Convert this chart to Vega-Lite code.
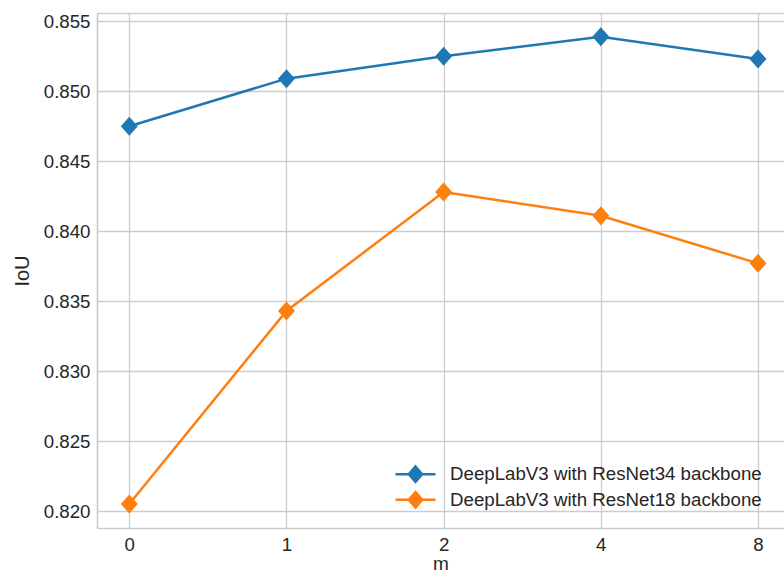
{
  "$schema": "https://vega.github.io/schema/vega-lite/v6.json",
  "autosize": "none",
  "padding": {"left": 97, "top": 13, "right": 0, "bottom": 46},
  "width": 687,
  "height": 515,
  "background": "white",
  "config": {
    "font": "Liberation Sans",
    "view": {"stroke": null},
    "axis": {
      "labelColor": "#262626",
      "titleColor": "#262626",
      "labelFontSize": 18.7,
      "titleFontSize": 20,
      "titleFontWeight": "normal",
      "labelFont": "Liberation Sans",
      "titleFont": "Liberation Sans",
      "gridColor": "#cccccc",
      "gridWidth": 1.3,
      "domainColor": "#cccccc",
      "domainWidth": 1.7,
      "ticks": false
    },
    "legend": {
      "labelFont": "Liberation Sans",
      "labelFontSize": 18.7,
      "labelColor": "#262626"
    }
  },
  "data": {
    "values": [
      {"m": 0, "IoU": 0.8475, "model": "DeepLabV3 with ResNet34 backbone"},
      {"m": 1, "IoU": 0.8509, "model": "DeepLabV3 with ResNet34 backbone"},
      {"m": 2, "IoU": 0.8525, "model": "DeepLabV3 with ResNet34 backbone"},
      {"m": 4, "IoU": 0.8539, "model": "DeepLabV3 with ResNet34 backbone"},
      {"m": 8, "IoU": 0.8523, "model": "DeepLabV3 with ResNet34 backbone"},
      {"m": 0, "IoU": 0.8205, "model": "DeepLabV3 with ResNet18 backbone"},
      {"m": 1, "IoU": 0.8343, "model": "DeepLabV3 with ResNet18 backbone"},
      {"m": 2, "IoU": 0.8428, "model": "DeepLabV3 with ResNet18 backbone"},
      {"m": 4, "IoU": 0.8411, "model": "DeepLabV3 with ResNet18 backbone"},
      {"m": 8, "IoU": 0.8377, "model": "DeepLabV3 with ResNet18 backbone"}
    ]
  },
  "encoding": {
    "y": {
      "field": "IoU",
      "type": "quantitative",
      "scale": {"domain": [0.818785, 0.855593], "nice": false, "zero": false},
      "axis": {
        "title": "IoU",
        "values": [0.82, 0.825, 0.83, 0.835, 0.84, 0.845, 0.85, 0.855],
        "format": ".3f",
        "labelPadding": 7,
        "titlePadding": 11,
        "domain": true
      }
    },
    "color": {
      "field": "model",
      "type": "nominal",
      "scale": {
        "domain": ["DeepLabV3 with ResNet34 backbone", "DeepLabV3 with ResNet18 backbone"],
        "range": ["#1f77b4", "#ff7f0e"]
      },
      "legend": {
        "title": null,
        "orient": "none",
        "legendX": 307,
        "legendY": 449.7,
        "padding": 0,
        "symbolType": "M-2,0H2M0,-0.77L0.67,0L0,0.77L-0.67,0Z",
        "symbolSize": 400,
        "symbolStrokeWidth": 2.5,
        "labelOffset": 23,
        "rowPadding": -1.4,
        "labelLimit": 500,
        "encode": {
          "symbols": {
            "update": {
              "fill": {"scale": "color", "field": "value"},
              "stroke": {"scale": "color", "field": "value"},
              "strokeWidth": {"value": 2.5},
              "opacity": {"value": 1}
            }
          }
        }
      }
    }
  },
  "layer": [
    {
      "mark": {"type": "line", "strokeWidth": 2.5},
      "encoding": {
        "x": {
          "field": "m",
          "type": "ordinal",
          "scale": {"type": "point", "domain": [0, 1, 2, 4, 8], "padding": 0.1854, "align": 0.554},
          "axis": {
            "title": "m",
            "titleFontSize": 19,
            "labelAngle": 0,
            "labelPadding": 7,
            "titlePadding": 1,
            "domain": true,
            "grid": true
          }
        }
      }
    },
    {
      "mark": {"type": "point", "filled": true, "opacity": 1, "size": 361, "shape": "M0,-1L0.894,0L0,1L-0.894,0Z", "strokeWidth": 0},
      "encoding": {
        "x": {
          "field": "m",
          "type": "ordinal",
          "axis": {
            "orient": "top",
            "title": null,
            "labels": false,
            "ticks": false,
            "grid": false,
            "domain": true
          }
        }
      }
    }
  ],
  "resolve": {"axis": {"x": "independent"}}
}
